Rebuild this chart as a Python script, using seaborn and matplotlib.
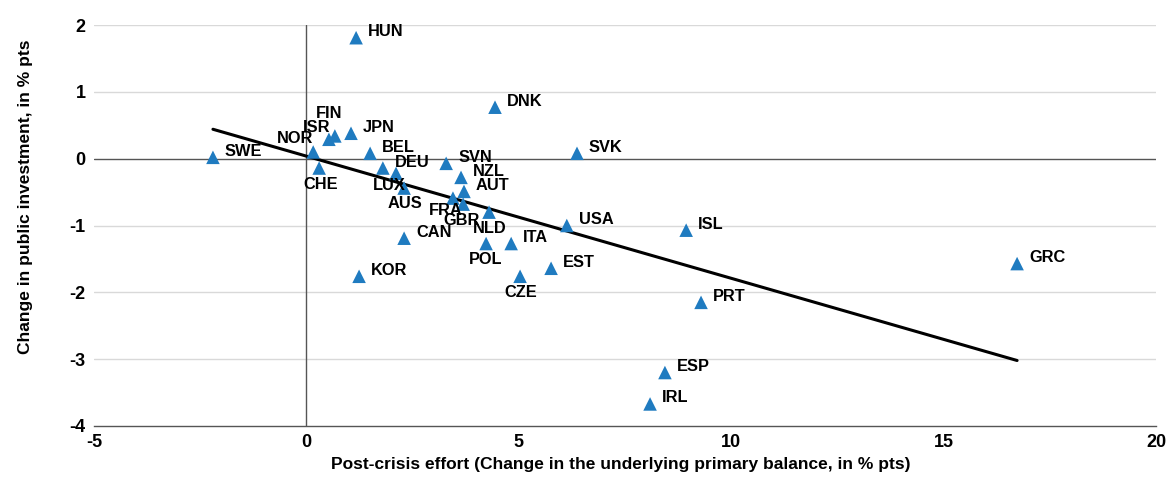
import matplotlib
matplotlib.use("Agg")
import matplotlib.pyplot as plt
import seaborn as sns
import pandas as pd

countries = ["HUN", "DNK", "FIN", "ISR", "JPN", "NOR", "SWE", "CHE", "BEL", "DEU",
             "LUX", "AUS", "SVN", "NZL", "AUT", "FRA", "GBR", "NLD", "CAN", "POL",
             "ITA", "KOR", "CZE", "EST", "USA", "SVK", "ISL", "GRC", "PRT", "ESP", "IRL"]
effort = [1.17, 4.44, 0.67, 0.53, 1.05, 0.16, -2.20, 0.30, 1.50, 1.80,
          2.11, 2.30, 3.29, 3.64, 3.71, 3.45, 3.69, 4.30, 2.30, 4.23,
          4.82, 1.24, 5.03, 5.76, 6.13, 6.37, 8.94, 16.73, 9.29, 8.44, 8.09]
investment = [1.81, 0.77, 0.34, 0.29, 0.38, 0.10, 0.02, -0.14, 0.08, -0.14,
              -0.22, -0.44, -0.07, -0.28, -0.49, -0.59, -0.68, -0.80, -1.19, -1.27,
              -1.27, -1.76, -1.76, -1.64, -1.00, 0.08, -1.07, -1.57, -2.15, -3.20, -3.67]
trend_x = [-2.20, 16.73]
trend_y = [0.44, -3.02]

# label offsets in pixels (dx, dy up) for crowded labels; default right/up
label_offsets = {
    "FIN": (-6, 22), "ISR": (-12, 12), "NOR": (-18, 13), "CHE": (2, -16),
    "LUX": (-7, -12), "AUS": (1, -15), "FRA": (-7, -12), "GBR": (-2, -16),
    "NLD": (1, -16), "POL": (0, -16), "CZE": (1, -16),
}

df = pd.DataFrame({"country": countries, "x": effort, "y": investment})

sns.set_theme(style="white")
plt.rcParams["font.family"] = ["Liberation Sans", "DejaVu Sans"]
plt.rcParams["font.weight"] = "bold"
plt.rcParams["axes.unicode_minus"] = False

fig = plt.figure(figsize=(11.69, 4.83), dpi=100)
ax = fig.add_axes([94 / 1169, 1 - 426 / 483, (1156 - 94) / 1169, (426 - 25) / 483])

ax.set_xlim(-5, 20)
ax.set_ylim(-4, 2)
ax.set_yticks(range(-4, 3))
ax.set_xticks(range(-5, 21, 5))
for yv in range(-3, 3):
    if yv != 0:
        ax.axhline(yv, color="#d9d9d9", lw=1, zorder=0)
ax.axhline(0, color="#555555", lw=1, zorder=1)
ax.axvline(0, color="#555555", lw=1, zorder=1)

sns.lineplot(x=trend_x, y=trend_y, ax=ax, color="black", lw=2.2, zorder=2)
sns.scatterplot(data=df, x="x", y="y", ax=ax, marker="^", s=95,
                color="#1f7bc0", edgecolor="none", zorder=3)

for c, xv, yv in zip(countries, effort, investment):
    dx, dy = label_offsets.get(c, (12, 6))
    ha = "left" if c not in label_offsets else "center"
    ax.annotate(c, (xv, yv), xytext=(dx, dy), textcoords="offset pixels",
                ha=ha, va="center", fontsize=11.8, fontweight="bold", color="black", zorder=4)

for s in ["top", "right", "left"]:
    ax.spines[s].set_visible(False)
ax.spines["bottom"].set_color("#555555")
ax.spines["bottom"].set_linewidth(1)
ax.tick_params(axis="x", direction="in", length=4, color="#555555", pad=6,
               labelsize=13, labelcolor="black")
ax.tick_params(axis="y", length=0, pad=6, labelsize=13, labelcolor="black")
for lbl in ax.get_xticklabels() + ax.get_yticklabels():
    lbl.set_fontweight("bold")

ax.set_xlabel("Post-crisis effort (Change in the underlying primary balance, in % pts)",
              fontsize=12.5, fontweight="bold", color="black")
ax.set_ylabel("Change in public investment, in % pts", fontsize=12.5,
              fontweight="bold", color="black")
ax.xaxis.set_label_coords(0.496, (426 - 457) / 401)
ax.yaxis.set_label_coords((33 - 94) / 1062, (426 - 197) / 401)

fig.savefig("out.png", dpi=100)
